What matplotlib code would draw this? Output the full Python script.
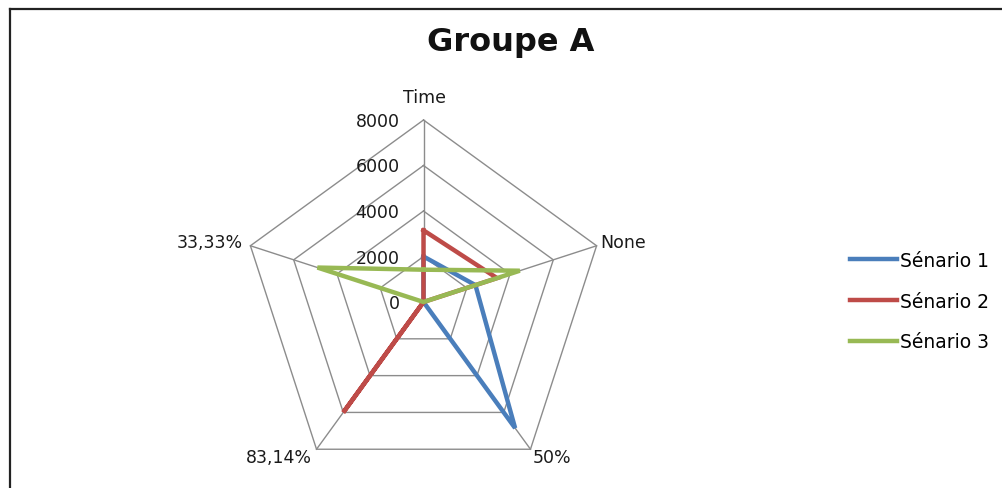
import numpy as np
import matplotlib.pyplot as plt
from matplotlib.lines import Line2D

plt.rcParams['font.family'] = ['DejaVu Sans']

# chart data
categories = ['Time', 'None', '50%', '83,14%', '33,33%']
scenario_1 = [2000, 2400, 6850, 0, 0]
scenario_2 = [3150, 3400, 0, 6000, 0]
scenario_3 = [1420, 4450, 0, 0, 4900]
series_names = ['Sénario 1', 'Sénario 2', 'Sénario 3']
ring_values = [0, 2000, 4000, 6000, 8000]

colors = ['#4A7EBB', '#BE4B48', '#98B954']
grid_color = '#8C8C8C'
text_color = '#1A1A1A'

W, H = 1002, 489
fig = plt.figure(figsize=(W / 100, H / 100), dpi=100)

# chart border (top and left edges)
fig.add_artist(Line2D([10 / W, 10 / W], [0, 1 - 10 / H], color='#222222', lw=1.6))
fig.add_artist(Line2D([10 / W, 1], [1 - 10 / H, 1 - 10 / H], color='#222222', lw=1.6))

# radar area: centre and radius in pixels
cx, cy, R = 423.5, 303.0, 182.0
rmax = ring_values[-1]
half = 210.0
ax = fig.add_axes([(cx - half) / W, (H - cy - half) / H, 2 * half / W, 2 * half / H])
lim = rmax * half / R
ax.set_xlim(-lim, lim)
ax.set_ylim(-lim, lim)
ax.axis('off')

n = len(categories)
theta = np.arange(n) * 2 * np.pi / n
k = rmax / R  # data units per pixel


def to_xy(values):
    v = np.asarray(values, dtype=float)
    return v * np.sin(theta), v * np.cos(theta)


# pentagon rings and spokes
for rv in ring_values[1:]:
    x, y = to_xy([rv] * n)
    ax.plot(np.append(x, x[0]), np.append(y, y[0]), color=grid_color, lw=1.0, zorder=1)
for t in theta:
    ax.plot([0, rmax * np.sin(t)], [0, rmax * np.cos(t)], color=grid_color, lw=1.0, zorder=1)

# value labels along the top spoke
for rv in ring_values:
    ax.text(-24 * k, rv - 1 * k, str(rv), ha='right', va='center', fontsize=12.5, color=text_color)

# category labels
offsets = {
    'Time': (1, 23, 'center', 'center'),
    'None': (4, 4, 'left', 'center'),
    '50%': (2, -8, 'left', 'center'),
    '83,14%': (-5, -8, 'right', 'center'),
    '33,33%': (-8, 4, 'right', 'center'),
}
for name, t in zip(categories, theta):
    dx, dy, ha, va = offsets[name]
    ax.text(rmax * np.sin(t) + dx * k, rmax * np.cos(t) + dy * k, name,
            ha=ha, va=va, fontsize=12.5, color=text_color)

# data series
for vals, c, label in zip([scenario_1, scenario_2, scenario_3], colors, series_names):
    x, y = to_xy(vals)
    ax.plot(np.append(x, x[0]), np.append(y, y[0]), color=c, lw=3.2,
            solid_joinstyle='miter', label=label, zorder=3)

fig.text(511 / W, 1 - 43 / H, 'Groupe A', ha='center', va='center',
         fontsize=23, fontweight='bold', color='#111111')

handles = [Line2D([], [], color=c, lw=3.2) for c in colors]
fig.legend(handles, series_names, loc='center left', bbox_to_anchor=(841 / W, 1 - 302 / H),
           frameon=False, fontsize=13.5, handlelength=2.5, handletextpad=0.12,
           labelspacing=1.15, borderpad=0)

fig.savefig('out.png', dpi=100, facecolor='white')
